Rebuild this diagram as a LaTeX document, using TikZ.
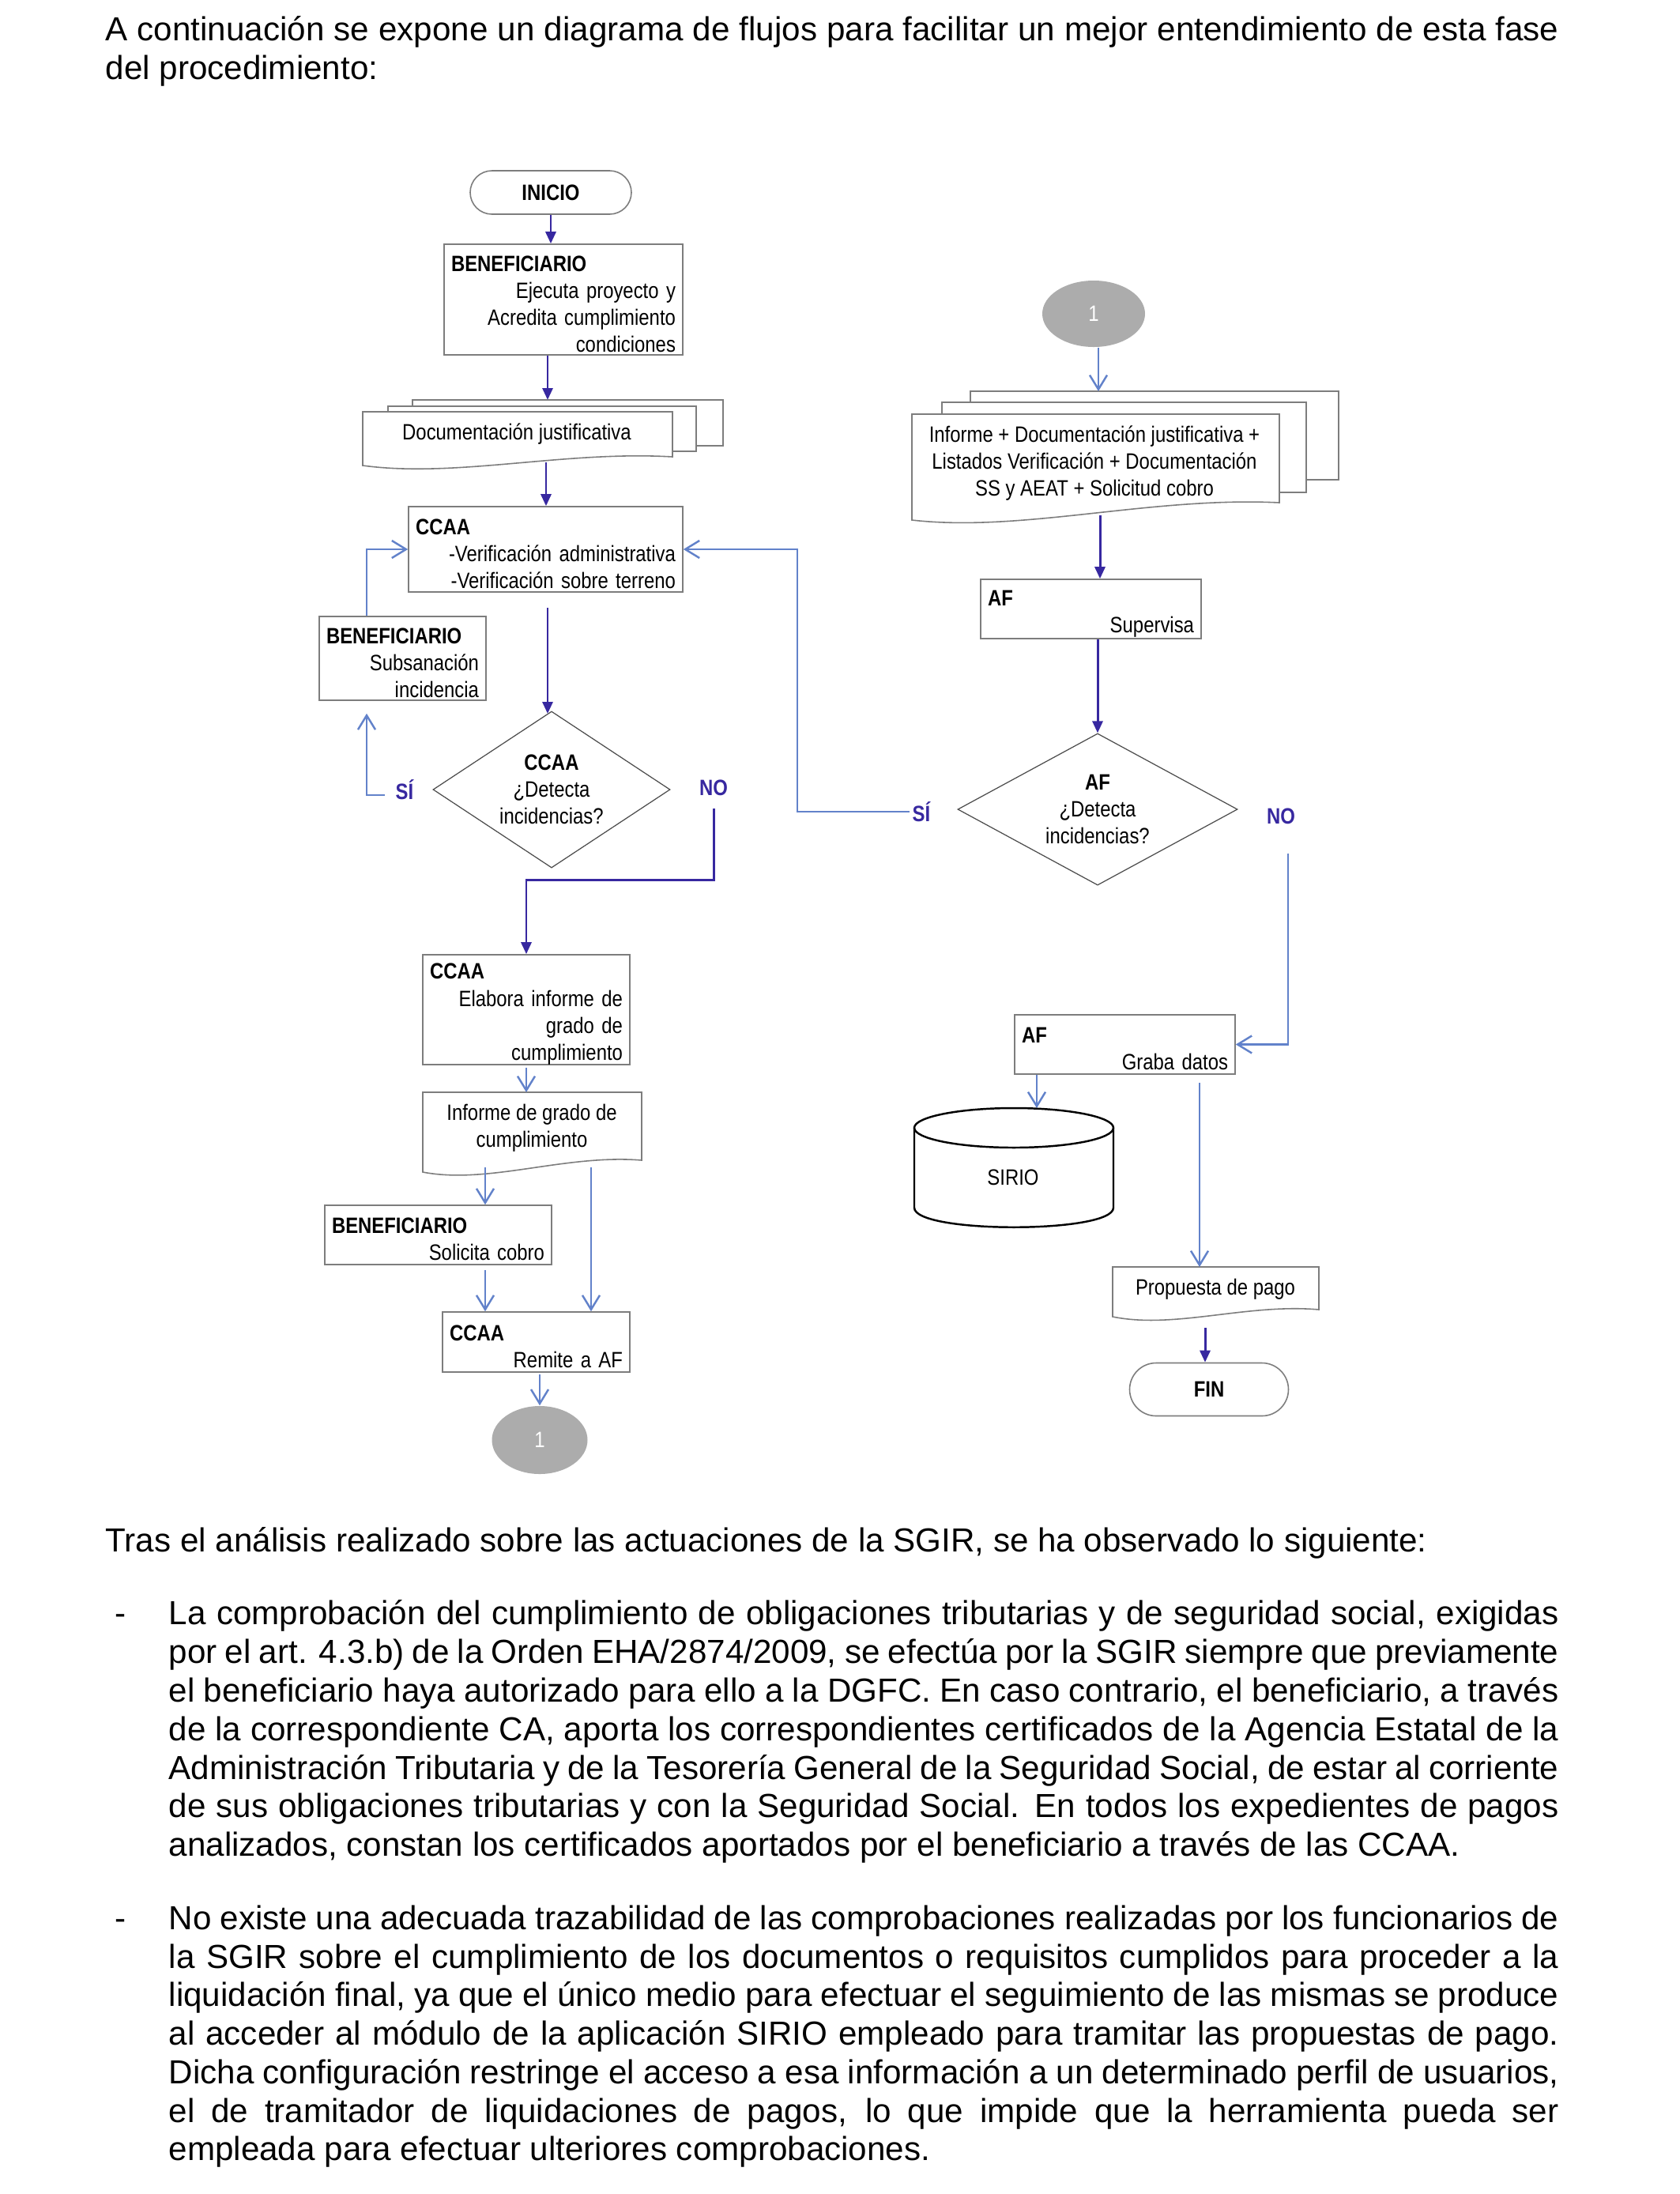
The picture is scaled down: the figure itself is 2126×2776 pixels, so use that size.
\documentclass[tikz,border=0pt]{standalone}
\usepackage{fontspec}
\setmainfont{Liberation Sans}
\newfontfamily\dgfont[FakeStretch=0.85]{Liberation Sans}
\usetikzlibrary{arrows.meta,shapes.geometric,shapes.misc}
\definecolor{dk}{RGB}{55,40,160}
\definecolor{lt}{RGB}{98,130,202}
\definecolor{bx}{RGB}{125,125,125}
\definecolor{cn}{RGB}{172,172,172}
\newcommand\hdline[1]{\leavevmode\hbox to\hsize{\rule{0pt}{3.1mm}\bfseries #1\hfil}}
\newcommand\jln[1]{\makebox[175.9mm][s]{#1}}
\newcommand\jlh[1]{\makebox[183.9mm][s]{#1}}
% x1, top, x2, yRight, yLeft
\newcommand\docshape[5]{%
  \filldraw[docline] (#1,#2) -- (#3,#2) -- (#3,#4)
    .. controls ({#1+0.65*(#3-#1)},{#4-8}) and ({#1+0.3*(#3-#1)},{#5+16}) .. (#1,#5) -- cycle;}
\begin{document}
\begin{tikzpicture}[x=0.1mm,y=-0.1mm,
  dgf/.style={font=\dgfont\fontsize{8pt}{9.7pt}\selectfont},
  pbox/.style={dgf, draw=bx, line width=0.45pt, fill=white, inner xsep=0.9mm, inner ysep=0pt, align=right},
  term/.style={rounded rectangle, draw=bx, line width=0.45pt, fill=white, inner sep=0pt, font=\dgfont\bfseries\fontsize{8pt}{9.7pt}\selectfont},
  dec/.style={dgf, diamond, draw=black!70, line width=0.35pt, aspect=1.5, inner sep=0pt, align=center},
  conn/.style={dgf, ellipse, fill=cn, text=white, inner sep=0pt},
  lbl/.style={text=dk, inner sep=0.3mm, font=\dgfont\bfseries\fontsize{8pt}{9.7pt}\selectfont},
  darr/.style={draw=dk, line width=0.85pt, -{Triangle[length=1.5mm,width=1.3mm]}},
  larr/.style={draw=lt, line width=0.7pt, -{Straight Barb[length=1.8mm,width=2.2mm]}},
  docline/.style={draw=bx, line width=0.45pt, fill=white},
  txt/.style={anchor=base west, inner sep=0pt, font=\fontsize{12pt}{14pt}\selectfont}]
\fill[white] (0,0) rectangle (2126,2776);
\useasboundingbox (0,0) rectangle (2126,2776);

% ---------- header text
\node[txt] (h1) at (133,51) {\jlh{A continuación se expone un diagrama de flujos para facilitar un mejor entendimiento de esta fase}};
\node[txt] (h2) at (133,100) {del procedimiento:};

% ---------- left column
\node[term, minimum width=20.4mm, minimum height=5.5mm] (inicio) at (697,243.5) {INICIO};
\node[pbox, text width=28.4mm, minimum height=14mm] (ben1) at (713,379)
  {\hdline{BENEFICIARIO}\\Ejecuta proyecto y\\Acredita cumplimiento\\condiciones};

\filldraw[docline] (522,506) rectangle (915,564);
\filldraw[docline] (491,514) rectangle (881,571);
\docshape{459}{521}{851}{578}{589}
\node[dgf, align=center] (doc1) at (654,549) {Documentación justificativa};
\coordinate (d1top) at (693,506);
\coordinate (d1bot) at (691,585);

\node[pbox, text width=32.9mm, minimum height=10.8mm] (ccaa1) at (690.5,695)
  {\hdline{CCAA}\\-Verificación administrativa\\-Verificación sobre terreno};
\node[pbox, text width=19.3mm, minimum height=10.6mm] (ben2) at (509.5,833)
  {\hdline{BENEFICIARIO}\\Subsanación\\incidencia};
\node[dec, minimum width=30mm, minimum height=19.8mm] (dia1) at (698,999)
  {\textbf{CCAA}\\¿Detecta\\incidencias?};
\coordinate (d1in) at (693,903);
\node[lbl] (si1) at (512,999) {SÍ};
\node[lbl] (no1) at (903,997) {NO};
\coordinate (nobend) at (903,1113);

\node[pbox, text width=24.4mm, minimum height=13.9mm] (ccaa2) at (666,1277.5)
  {\hdline{CCAA}\\Elabora informe de\\grado de\\cumplimiento};
\docshape{535}{1382}{812}{1468}{1483}
\node[dgf, align=center] (inf) at (673,1427) {Informe de grado de\\cumplimiento};
\coordinate (inftop) at (666,1382);
\coordinate (infb1) at (614,1477);
\coordinate (infb2) at (748,1477);

\node[pbox, text width=26.9mm, minimum height=7.5mm] (ben3) at (554.5,1562.5)
  {\hdline{BENEFICIARIO}\\Solicita cobro};
\node[pbox, text width=21.9mm, minimum height=7.6mm] (ccaa3) at (678.5,1698)
  {\hdline{CCAA}\\Remite a AF};
\node[conn, minimum width=12.1mm, minimum height=8.6mm] (c1b) at (683,1822) {1};

% ---------- right column
\node[conn, minimum width=13mm, minimum height=8.4mm] (c1t) at (1384,397) {1};
\filldraw[docline] (1228,495) rectangle (1694,607);
\filldraw[docline] (1192,509) rectangle (1653,623);
\docshape{1154}{524}{1619}{636}{658}
\node[dgf, align=center] (doc2) at (1385,586)
  {Informe + Documentación justificativa +\\Listados Verificación + Documentación\\SS y AEAT + Solicitud cobro};
\coordinate (d2top) at (1390,495);
\coordinate (d2bot) at (1392,652);

\node[pbox, text width=26.1mm, minimum height=7.5mm] (af1) at (1380.5,770.5) {\hdline{AF}\\Supervisa};
\node[dec, minimum width=35.4mm, minimum height=19.2mm] (dia2) at (1389,1024)
  {\textbf{AF}\\¿Detecta\\incidencias?};
\node[lbl] (si2) at (1166,1027) {SÍ};
\node[lbl] (no2) at (1621,1033) {NO};
\coordinate (sib) at (1009,1027);

\node[pbox, text width=26.1mm, minimum height=7.5mm] (af2) at (1423.5,1321.5) {\hdline{AF}\\Graba datos};

\filldraw[draw=black, line width=0.7pt, fill=white] (1157,1427) -- (1157,1528)
  .. controls (1157,1561) and (1409,1561) .. (1409,1528) -- (1409,1427);
\draw[black, line width=0.7pt] (1283,1427) ellipse [x radius=12.6mm, y radius=2.5mm];
\node[dgf] (sirio) at (1282,1490) {SIRIO};
\coordinate (siriotop) at (1312,1402);

\docshape{1408}{1603}{1669}{1657}{1666}
\node[dgf] (prop) at (1538,1631) {Propuesta de pago};
\coordinate (ptop) at (1518,1603);
\coordinate (pbot) at (1525,1680);
\node[term, minimum width=20.1mm, minimum height=6.7mm] (fin) at (1530,1758) {FIN};

% ---------- dark connectors
\draw[darr] (inicio.south) -- (inicio.south |- ben1.north);
\draw[darr] (ben1.south -| d1top) -- (d1top);
\draw[darr] (d1bot) -- (d1bot |- ccaa1.north);
\draw[darr, shorten <=1.9mm] (ccaa1.south -| d1in) -- (d1in);
\draw[darr, shorten <=1.2mm] (no1.south) -- (nobend) -| (ccaa2.north);
\draw[darr] (d2bot) -- (d2bot |- af1.north);
\draw[darr] (af1.south -| dia2.north) -- (dia2.north);
\draw[darr] (pbot) -- (pbot |- fin.north);

% ---------- light connectors
\draw[larr] ([xshift=-4.55mm]ben2.north) |- (ccaa1.west);
\draw[larr, shorten <=1mm, shorten >=1.6mm] ([yshift=-0.7mm]si1.west) -| ([xshift=-4.55mm]ben2.south);
\draw[larr] (si2.west) -- (si2.west -| sib) |- (ccaa1.east);
\draw[larr, shorten <=3.3mm] ([xshift=0.9mm]no2.south) |- (af2.east);
\draw[larr, shorten <=0.3mm] (ccaa2.south -| inftop) -- (inftop);
\draw[larr] (infb1) -- (infb1 |- ben3.north);
\draw[larr] (infb2) -- (infb2 |- ccaa3.north);
\draw[larr, shorten <=0.6mm] (infb1 |- ben3.south) -- (infb1 |- ccaa3.north);
\draw[larr, shorten <=0.2mm] (ccaa3.south -| c1b.north) -- (c1b.north);
\draw[larr] (c1t.south -| d2top) -- (d2top);
\draw[larr] (af2.south -| siriotop) -- (siriotop);
\draw[larr, shorten <=1mm] (af2.south -| ptop) -- (ptop);

% ---------- body text
\node[txt] (tras) at (133,1963) {Tras el análisis realizado sobre las actuaciones de la SGIR, se ha observado lo siguiente:};
\node[txt] (b1) at (145,2055) {-};
\node[txt] (p1a) at (213,2055) {\jln{La comprobación del cumplimiento de obligaciones tributarias y de seguridad social, exigidas}};
\node[txt] (p1b) at (213,2104) {\jln{por el art. 4.3.b) de la Orden EHA/2874/2009, se efectúa por la SGIR siempre que previamente}};
\node[txt] (p1c) at (213,2153) {\jln{el beneficiario haya autorizado para ello a la DGFC. En caso contrario, el beneficiario, a través}};
\node[txt] (p1d) at (213,2202) {\jln{de la correspondiente CA, aporta los correspondientes certificados de la Agencia Estatal de la}};
\node[txt] (p1e) at (213,2251) {\jln{Administración Tributaria y de la Tesorería General de la Seguridad Social, de estar al corriente}};
\node[txt] (p1f) at (213,2299) {\jln{de sus obligaciones tributarias y con la Seguridad Social. En todos los expedientes de pagos}};
\node[txt] (p1g) at (213,2348) {analizados, constan los certificados aportados por el beneficiario a través de las CCAA.};
\node[txt] (b2) at (145,2441) {-};
\node[txt] (p2a) at (213,2441) {\jln{No existe una adecuada trazabilidad de las comprobaciones realizadas por los funcionarios de}};
\node[txt] (p2b) at (213,2490) {\jln{la SGIR sobre el cumplimiento de los documentos o requisitos cumplidos para proceder a la}};
\node[txt] (p2c) at (213,2538) {\jln{liquidación final, ya que el único medio para efectuar el seguimiento de las mismas se produce}};
\node[txt] (p2d) at (213,2587) {\jln{al acceder al módulo de la aplicación SIRIO empleado para tramitar las propuestas de pago.}};
\node[txt] (p2e) at (213,2636) {\jln{Dicha configuración restringe el acceso a esa información a un determinado perfil de usuarios,}};
\node[txt] (p2f) at (213,2685) {\jln{el de tramitador de liquidaciones de pagos, lo que impide que la herramienta pueda ser}};
\node[txt] (p2g) at (213,2733) {empleada para efectuar ulteriores comprobaciones.};
\end{tikzpicture}
\end{document}
